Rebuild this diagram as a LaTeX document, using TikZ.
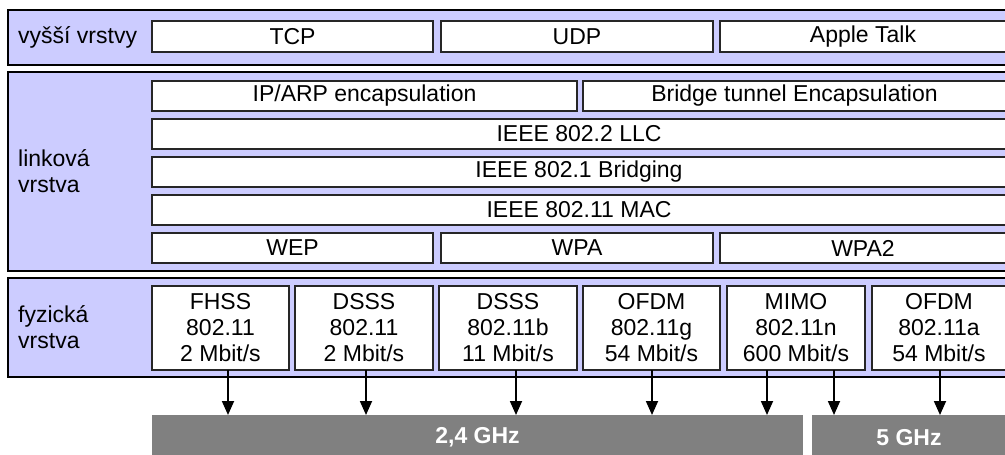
\documentclass[tikz,border=0pt]{standalone}
\usepackage{fontspec}
\setmainfont{Liberation Sans}
\usetikzlibrary{arrows.meta}

\definecolor{layer}{HTML}{CCCCFF}
\definecolor{band}{HTML}{808080}

\tikzset{
  txt/.style={font=\fontsize{23}{26}\selectfont},
  layerbox/.style={draw=black, line width=2.2pt, fill=layer},
  blk/.style={txt, draw=black!85, line width=1.6pt, fill=white, inner sep=0pt, outer sep=0pt,
    minimum height=30pt, align=center},
  phys/.style={blk, minimum height=84pt},
  freq/.style={fill=band, text=white, inner sep=0pt, outer sep=0pt, minimum height=45pt,
    font=\fontsize{23}{26}\selectfont\bfseries},
  lbl/.style={txt, anchor=west, align=left, inner sep=0pt},
  arr/.style={-{Triangle[length=14pt,width=12pt]}, line width=1.8pt}
}

\begin{document}
\begin{tikzpicture}[x=1pt, y=-1pt]
\clip (0,0) rectangle (1005,455);

% vrstvy
\draw[layerbox] (8,10) rectangle (1012,65);
\draw[layerbox] (8,72) rectangle (1012,271);
\draw[layerbox] (8,278) rectangle (1012,377);

\node[lbl] (hl) at (18,37) {vyšší vrstvy};
\node[lbl] (ll) at (18,171.5) {linková\\vrstva};
\node[lbl] (pl) at (18,327.5) {fyzická\\vrstva};

% vyssi vrstvy
\node[blk, minimum width=281pt, minimum height=31pt] (tcp) at (292.5,36.5) {TCP};
\node[blk, minimum width=272pt, minimum height=31pt] (udp) at (577,36.5) {UDP};
\node[blk, minimum width=286pt, minimum height=31pt] (atalk) at (863,36.5) {Apple Talk};

% linkova vrstva
\node[blk, minimum width=425pt] (iparp) at (364.5,96) {IP/ARP encapsulation};
\node[blk, minimum width=423pt] (bridge) at (794.5,96) {Bridge tunnel Encapsulation};
\node[blk, minimum width=854pt] (llc) at (579,134) {IEEE 802.2 LLC};
\node[blk, minimum width=854pt] (brdg) at (579,172) {IEEE 802.1 Bridging};
\node[blk, minimum width=854pt] (mac) at (579,210) {IEEE 802.11 MAC};
\node[blk, minimum width=281pt] (wep) at (292.5,248) {WEP};
\node[blk, minimum width=272pt] (wpa) at (577,248) {WPA};
\node[blk, minimum width=286pt] (wpa2) at (863,248) {WPA2};

% fyzicka vrstva
\foreach \n/\x/\w/\a/\b/\c in {fhss/220.5/137/FHSS/802.11/2, dsss/364/138/DSSS/802.11/2,
    dsssb/508/138/DSSS/802.11b/11, ofdmg/651.5/137/OFDM/802.11g/54,
    mimo/796/138/MIMO/802.11n/600, ofdma/939/134/OFDM/802.11a/54}
  \node[phys, minimum width=\w pt] (\n) at (\x,328) {\a\\\b\\\c~Mbit/s};

\node[freq, minimum width=651pt] (ghz24) at (477.5,437.5) {2,4 GHz};
\node[freq, minimum width=194pt] (ghz5) at (909,437.5) {5 GHz};

% sipky
\foreach \n/\d/\f in {fhss/7.5/ghz24, dsss/2/ghz24, dsssb/8/ghz24, ofdmg/0.5/ghz24,
    mimo/-29/ghz24, mimo/38/ghz5, ofdma/1/ghz5}
  \draw[arr] ([xshift=\d pt]\n.south) -- ([xshift=\d pt]\n.south |- \f.north);
\end{tikzpicture}
\end{document}
